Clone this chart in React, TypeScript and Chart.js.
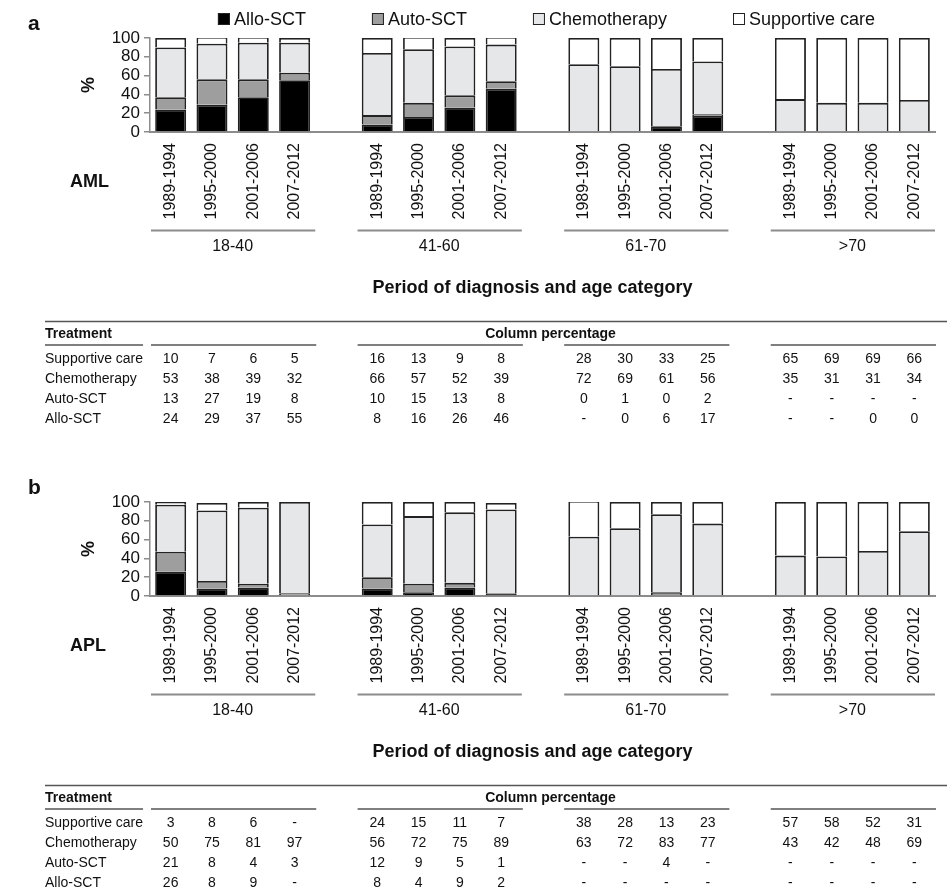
import React, { useEffect, useRef } from 'react';
import { Chart, registerables } from 'chart.js';

Chart.register(...registerables);

const FONT = 'Arial, "Liberation Sans", Helvetica, sans-serif';
const INK = '#111111';
const RULE = '#8c8c8c';
const TABLE_RULE = '#555555';
const BAR_EDGE = '#222222';

// Categories
const PERIODS = ['1989-1994', '1995-2000', '2001-2006', '2007-2012'];
const AGE_GROUPS = ['18-40', '41-60', '61-70', '>70'];
const Y_TICKS = [0, 20, 40, 60, 80, 100];

// Column percentages, ordered age group × period (null = "-")
const amlAllo = [24, 29, 37, 55, 8, 16, 26, 46, null, 0, 6, 17, null, null, 0, 0];
const amlAuto = [13, 27, 19, 8, 10, 15, 13, 8, 0, 1, 0, 2, null, null, null, null];
const amlChemo = [53, 38, 39, 32, 66, 57, 52, 39, 72, 69, 61, 56, 35, 31, 31, 34];
const amlSupportive = [10, 7, 6, 5, 16, 13, 9, 8, 28, 30, 33, 25, 65, 69, 69, 66];

const aplAllo = [26, 8, 9, null, 8, 4, 9, 2, null, null, null, null, null, null, null, null];
const aplAuto = [21, 8, 4, 3, 12, 9, 5, 1, null, null, 4, null, null, null, null, null];
const aplChemo = [50, 75, 81, 97, 56, 72, 75, 89, 63, 72, 83, 77, 43, 42, 48, 69];
const aplSupportive = [3, 8, 6, null, 24, 15, 11, 7, 38, 28, 13, 23, 57, 58, 52, 31];

// Stack order, bottom to top
const TREATMENTS = [
  { name: 'Allo-SCT', fill: '#000000' },
  { name: 'Auto-SCT', fill: '#9e9e9e' },
  { name: 'Chemotherapy', fill: '#e6e7e9' },
  { name: 'Supportive care', fill: '#ffffff' },
];
// Table row order
const TABLE_ROWS = [3, 2, 1, 0];

const PER_GROUP = PERIODS.length;
const X_AXIS_HEIGHT = 100;

// One empty slot separates consecutive age groups on the category axis
function toSlots<T>(values: T[], gap: T): T[] {
  const out: T[] = [];
  AGE_GROUPS.forEach((_, g) => {
    if (g > 0) out.push(gap);
    PERIODS.forEach((_, p) => out.push(values[g * PER_GROUP + p]));
  });
  return out;
}
const slotOf = (col: number) => Math.floor(col / PER_GROUP) * (PER_GROUP + 1) + (col % PER_GROUP);
const SLOT_LABELS = toSlots(AGE_GROUPS.flatMap(() => PERIODS), '');

type Series = (number | null)[][];

interface PanelProps {
  letter: string;
  disease: string;
  series: Series; // same order as TREATMENTS
  legend: boolean;
  top: number;
  height: number;
  plotTop: number;
  plotBottom: number;
}

function decorPlugin(p: PanelProps) {
  return {
    id: 'panelDecor',
    afterDraw(chart: any) {
      const { ctx, chartArea: area } = chart;
      const xs = chart.scales.x;
      const bottom = area.bottom;
      const slotW = xs.getPixelForValue(1) - xs.getPixelForValue(0);
      const colX = (c: number) => xs.getPixelForValue(slotOf(c));
      const midX = (area.left + area.right) / 2;

      ctx.save();
      ctx.fillStyle = INK;

      // panel letter
      ctx.font = `bold 21px ${FONT}`;
      ctx.textAlign = 'left';
      ctx.textBaseline = 'alphabetic';
      ctx.fillText(p.letter, 28, area.top - 8);

      // legend
      if (p.legend) {
        ctx.font = `18px ${FONT}`;
        const box = 12;
        const textGap = 4;
        const itemGap = 66;
        const widths = TREATMENTS.map((t) => box + textGap + ctx.measureText(t.name).width);
        const total = widths.reduce((a, b) => a + b, 0) + itemGap * (TREATMENTS.length - 1);
        let x = midX + 4 - total / 2;
        const base = area.top - 13;
        TREATMENTS.forEach((t, i) => {
          ctx.fillStyle = t.fill;
          ctx.fillRect(x, base - box, box, box);
          ctx.strokeStyle = BAR_EDGE;
          ctx.lineWidth = 1;
          ctx.strokeRect(x + 0.5, base - box + 0.5, box - 1, box - 1);
          ctx.fillStyle = INK;
          ctx.fillText(t.name, x + box + textGap, base);
          x += widths[i] + itemGap;
        });
      }

      // y axis title
      ctx.save();
      ctx.translate(89, (area.top + area.bottom) / 2);
      ctx.rotate(-Math.PI / 2);
      ctx.font = `bold 18px ${FONT}`;
      ctx.textAlign = 'center';
      ctx.textBaseline = 'middle';
      ctx.fillText('%', 0, 0);
      ctx.restore();

      // disease label
      ctx.font = `bold 18px ${FONT}`;
      ctx.textAlign = 'left';
      ctx.textBaseline = 'middle';
      ctx.fillText(p.disease, 70, bottom + 50);

      // age group brackets and names
      const groupSpan = (g: number) => {
        const first = xs.getPixelForValue(slotOf(g * PER_GROUP));
        const last = xs.getPixelForValue(slotOf(g * PER_GROUP + PER_GROUP - 1));
        return { x0: first - slotW / 2 + 1, x1: last + slotW / 2, c: (first + last) / 2 };
      };
      ctx.strokeStyle = RULE;
      ctx.lineWidth = 2;
      ctx.font = `16px ${FONT}`;
      ctx.textAlign = 'center';
      AGE_GROUPS.forEach((name, g) => {
        const s = groupSpan(g);
        ctx.beginPath();
        ctx.moveTo(s.x0, bottom + 98.5);
        ctx.lineTo(s.x1, bottom + 98.5);
        ctx.stroke();
        ctx.fillText(name, s.c, bottom + 115);
      });

      // x axis title
      ctx.font = `bold 18px ${FONT}`;
      ctx.fillText('Period of diagnosis and age category', midX - 10, bottom + 156);

      // table
      const tableLeft = 45;
      ctx.strokeStyle = TABLE_RULE;
      ctx.lineWidth = 1.5;
      ctx.beginPath();
      ctx.moveTo(tableLeft, bottom + 189.5);
      ctx.lineTo(chart.width, bottom + 189.5);
      ctx.stroke();

      ctx.font = `bold 14px ${FONT}`;
      ctx.textAlign = 'left';
      ctx.fillText('Treatment', tableLeft, bottom + 202);
      ctx.fillText('Column percentage', colX(7) - 16, bottom + 202);

      ctx.font = `14px ${FONT}`;
      const labelRuleEnd = tableLeft + ctx.measureText('Supportive care').width;
      ctx.beginPath();
      ctx.moveTo(tableLeft, bottom + 213);
      ctx.lineTo(labelRuleEnd, bottom + 213);
      AGE_GROUPS.forEach((_, g) => {
        const s = groupSpan(g);
        ctx.moveTo(s.x0, bottom + 213);
        ctx.lineTo(s.x1 + 1, bottom + 213);
      });
      ctx.stroke();

      TABLE_ROWS.forEach((ti, r) => {
        const y = bottom + 227 + r * 20.2;
        ctx.textAlign = 'left';
        ctx.fillText(TREATMENTS[ti].name, tableLeft, y);
        ctx.textAlign = 'center';
        p.series[ti].forEach((v, c) => {
          ctx.fillText(v === null ? '-' : String(v), colX(c), y);
        });
      });

      ctx.restore();
    },
  };
}

function Panel(p: PanelProps) {
  const ref = useRef<HTMLCanvasElement>(null);

  useEffect(() => {
    if (!ref.current) return;
    const chart = new Chart(ref.current, {
      type: 'bar',
      data: {
        labels: SLOT_LABELS,
        datasets: TREATMENTS.map((t, i) => ({
          label: t.name,
          data: toSlots(p.series[i], null),
          backgroundColor: t.fill,
          borderColor: BAR_EDGE,
          borderWidth: 1.8,
          barPercentage: 0.75,
          categoryPercentage: 1,
          stack: 'treatment',
        })),
      },
      options: {
        responsive: false,
        animation: false,
        devicePixelRatio: 1,
        layout: {
          padding: {
            top: p.plotTop,
            left: 0,
            right: 12,
            bottom: p.height - p.plotBottom - X_AXIS_HEIGHT,
          },
        },
        plugins: {
          legend: { display: false },
          tooltip: { enabled: false },
        },
        scales: {
          x: {
            stacked: true,
            grid: { display: false, drawTicks: false },
            border: { display: true, color: RULE, width: 2 },
            ticks: {
              autoSkip: false,
              minRotation: 90,
              maxRotation: 90,
              padding: 11,
              color: INK,
              font: { family: FONT, size: 16 },
            },
            afterFit: (s: any) => {
              s.height = X_AXIS_HEIGHT;
              s.paddingLeft = 0;
              s.paddingRight = 0;
            },
          },
          y: {
            stacked: true,
            min: Y_TICKS[0],
            max: Y_TICKS[Y_TICKS.length - 1],
            afterBuildTicks: (s: any) => {
              s.ticks = Y_TICKS.map((v) => ({ value: v }));
            },
            ticks: {
              autoSkip: false,
              padding: 4,
              color: INK,
              font: { family: FONT, size: 17, lineHeight: 1 },
            },
            grid: {
              display: true,
              drawOnChartArea: false,
              drawTicks: true,
              tickLength: 6,
              color: RULE,
              lineWidth: 1.5,
            },
            border: { display: true, color: RULE, width: 1.5 },
            afterFit: (s: any) => {
              s.width = 150;
              s.paddingTop = 0;
              s.paddingBottom = 0;
            },
          },
        },
      },
      plugins: [decorPlugin(p)],
    } as any);
    return () => chart.destroy();
  }, []);

  return (
    <canvas
      ref={ref}
      width={947}
      height={p.height}
      style={{ position: 'absolute', left: 0, top: p.top, width: 947, height: p.height }}
    />
  );
}

export default function App() {
  return (
    <div
      style={{
        position: 'absolute',
        left: 0,
        top: 0,
        width: 947,
        height: 892,
        background: '#ffffff',
        overflow: 'hidden',
      }}
    >
      <Panel
        letter="a"
        disease="AML"
        series={[amlAllo, amlAuto, amlChemo, amlSupportive]}
        legend
        top={0}
        height={440}
        plotTop={38}
        plotBottom={132}
      />
      <Panel
        letter="b"
        disease="APL"
        series={[aplAllo, aplAuto, aplChemo, aplSupportive]}
        legend={false}
        top={440}
        height={452}
        plotTop={62}
        plotBottom={156}
      />
    </div>
  );
}
